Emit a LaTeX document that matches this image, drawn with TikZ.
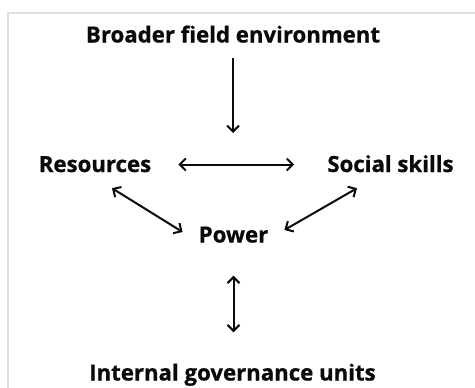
\documentclass[tikz,border=0pt]{standalone}
\usepackage{fontspec}
\setmainfont{Open Sans}[BoldFeatures={FakeBold=0.8}]
\usepackage{xcolor}
\usepackage{tikz}
\usetikzlibrary{positioning, arrows.meta}
\definecolor{framegray}{RGB}{224, 224, 224}
\definecolor{textdark}{RGB}{10, 10, 10}

\begin{document}
\begin{tikzpicture}[x=1pt, y=-1pt,
  term/.style={font=\fontsize{22.2pt}{26pt}\selectfont\bfseries, color=textdark,
    inner sep=0pt, text height=15pt, text depth=0pt},
  link/.style={line width=2pt, color=textdark,
    arrows={-Straight Barb[length=6pt, width=12pt]}},
  biglink/.style={link, arrows={Straight Barb[length=6pt, width=12pt]-Straight Barb[length=6pt, width=12pt]}}]
  \useasboundingbox (0,0) rectangle (475,388);

  % Frame
  \draw[line width=2pt, color=framegray] (475,13.3) -- (8.3,13.3) -- (8.3,388);

  % Terms
  \node[term] (broader) at (233, 35) {Broader field environment};
  \node[term] (resources) at (95, 164.5) {Resources};
  \node[term] (social) at (390.5, 164.5) {Social skills};
  \node[term] (power) at (233.5, 235) {Power};
  \node[term] (internal) at (232.5, 373) {Internal governance units};
  \coordinate (split) at (233, 133);

  % Links
  \draw[link, shorten <=15pt] (broader) -- (split);
  \draw[biglink, shorten <=27pt, shorten >=33pt] (resources) -- (social);
  \draw[biglink] ([shift={(17,16)}]resources.south) -- ([shift={(-16,-3)}]power.west);
  \draw[biglink] ([shift={(-33.5,16)}]social.south) -- ([shift={(16,-5)}]power.east);
  \draw[biglink, shorten <=33pt, shorten >=33pt] (power.south) -- (power.south |- internal.north);
\end{tikzpicture}
\end{document}
